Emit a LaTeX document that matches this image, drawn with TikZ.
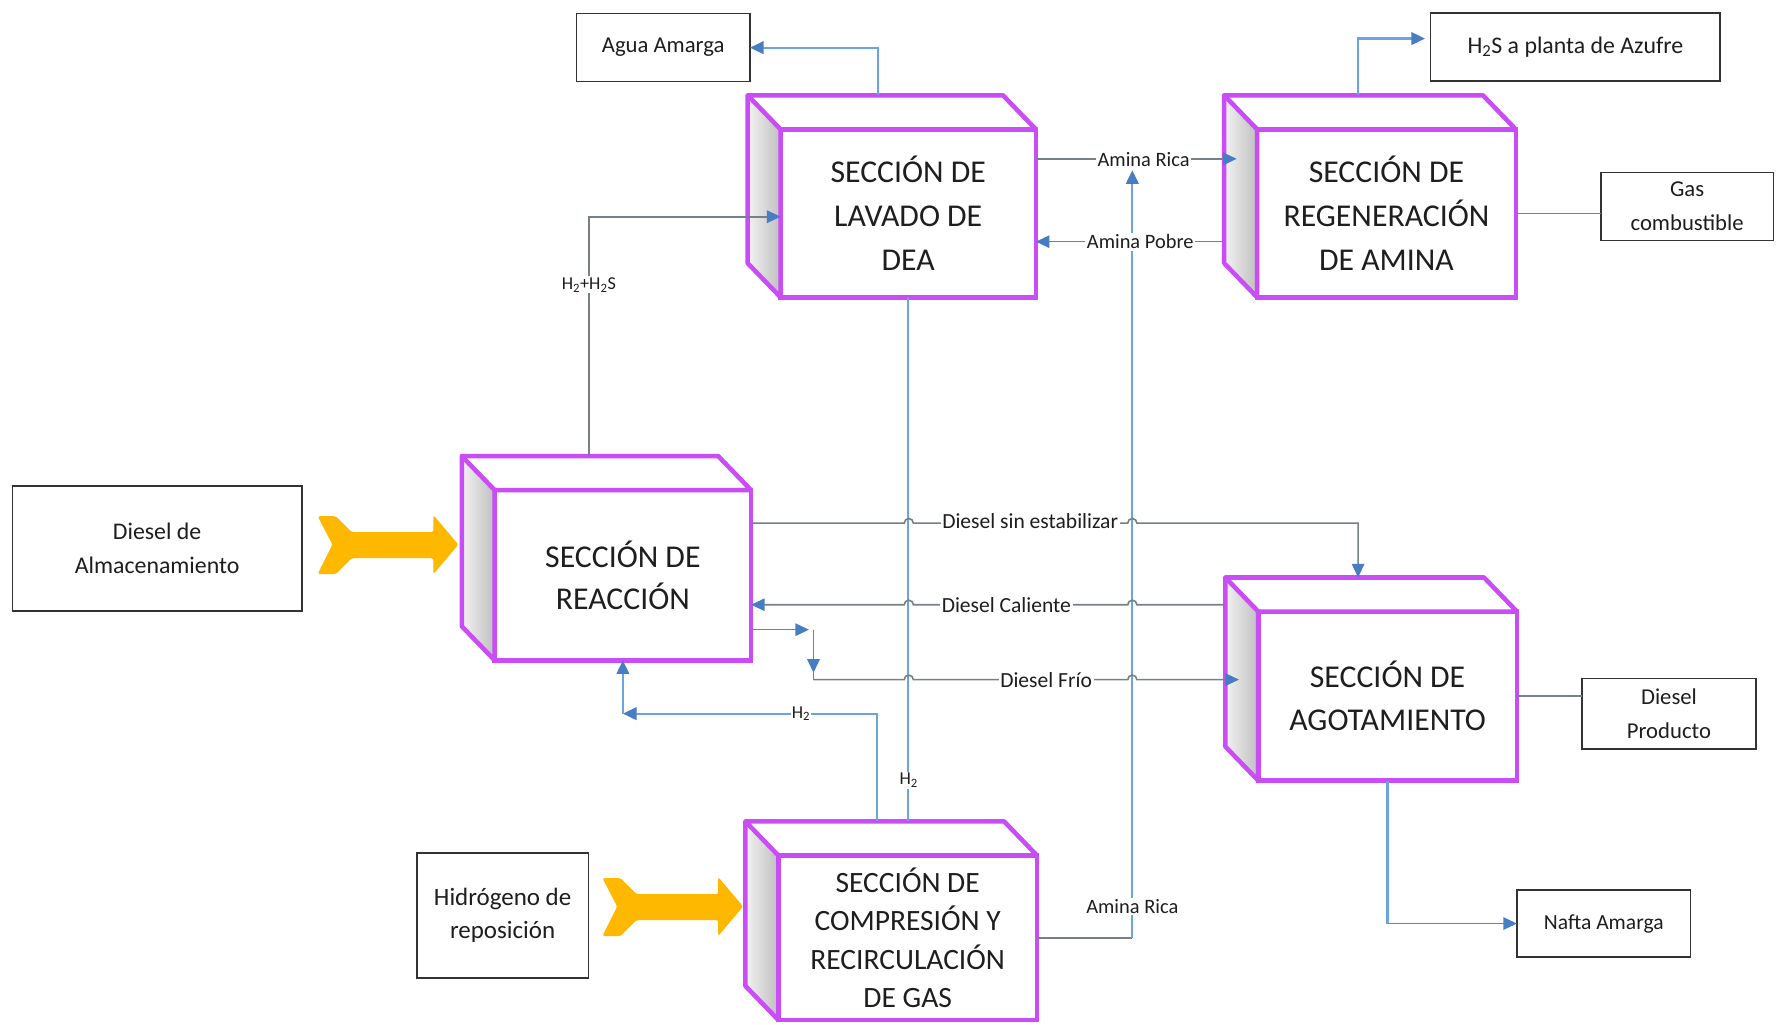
\documentclass[tikz,border=0pt]{standalone}
\usepackage{fontspec}
\setmainfont{Carlito}
\usetikzlibrary{arrows.meta}

\definecolor{cubeedge}{RGB}{201,76,246}
\definecolor{flowblue}{RGB}{108,164,222}
\definecolor{flowgray}{RGB}{118,128,133}
\definecolor{tipblue}{RGB}{70,125,195}
\definecolor{feedgold}{RGB}{255,184,0}
\definecolor{ink}{RGB}{30,30,30}

\tikzset{
  cubeface/.style={draw=cubeedge, line width=4pt, fill=white, rectangle,
    inner sep=0pt, outer sep=0pt, align=center,
    font=\fontsize{28}{39}\selectfont, text=ink},
  cubeline/.style={draw=cubeedge, line width=4pt, line join=round},
  streambox/.style={draw=black!80, line width=1.3pt, fill=white, rectangle,
    inner sep=0pt, outer sep=0pt, align=center,
    font=\fontsize{20}{30}\selectfont, text=ink},
  tag/.style={fill=white, inner sep=1.5pt, font=\fontsize{18}{20}\selectfont, text=ink},
  dtag/.style={fill=white, inner sep=1.5pt, font=\fontsize{19}{21}\selectfont, text=ink},
  smalltag/.style={fill=white, inner sep=1pt, font=\fontsize{16}{18}\selectfont, text=ink},
  bluepipe/.style={draw=flowblue, line width=2pt},
  graypipe/.style={draw=flowgray, line width=1.4pt},
  flowtip/.style={-{Triangle[length=12pt,width=11pt,fill=tipblue,color=tipblue]}},
  feedarrow/.style={fill=feedgold, rounded corners=2pt},
}

% 3-D process block: front face is a node, top and left faces are drawn behind it
\newcommand{\cubebox}[6][]{%
  \node[cubeface, minimum width=#5pt, minimum height=#6pt, #1] (#2) at (#3,#4) {};
  \fill[left color=gray!10, right color=gray!50]
    (#2.north west) -- ++(-29,-30) -- ([shift={(-29,-30)}]#2.south west) -- (#2.south west) -- cycle;
  \fill[white]
    (#2.north west) -- ++(-29,-30) -- ([shift={(-29,-30)}]#2.north east) -- (#2.north east) -- cycle;
  \draw[cubeline] (#2.south west) -- ([shift={(-29,-30)}]#2.south west)
    -- ([shift={(-29,-30)}]#2.north west) -- ([shift={(-29,-30)}]#2.north east)
    -- (#2.north east) -- (#2.north west) -- (#2.south west);
  \draw[cubeline] ([shift={(-29,-30)}]#2.north west) -- (#2.north west);
}

% wide feed arrow with a forked tail, tip at the given point
\newcommand{\feedshape}[1]{%
  \fill[feedarrow, shift={#1}]
    (-124,-25) -- (-108,-25) -- (-94,-11) -- (-22,-11) -- (-22,-26) -- (0,0)
    -- (-22,26) -- (-22,12) -- (-94,12) -- (-108,26) -- (-124,26) -- (-111,0) -- cycle;
}

\begin{document}
\begin{tikzpicture}[x=1pt, y=-1pt]
\useasboundingbox (0,0) rectangle (1568,903);
\fill[white] (0,0) rectangle (1568,903);

% ---- stream boxes
\node[streambox, minimum width=153pt, minimum height=60pt] (agua) at (584.5,42) {Agua Amarga};
\node[streambox, minimum width=255pt, minimum height=60pt, font=\fontsize{21}{30}\selectfont] (h2s) at (1388.5,41.5) {H\textsubscript{2}S a planta de Azufre};
\node[streambox, minimum width=152pt, minimum height=60pt] (gas) at (1487,182) {Gas\\combustible};
\node[streambox, minimum width=255pt, minimum height=110pt, font=\fontsize{21}{30}\selectfont] (dalm) at (138.5,483.5) {Diesel de\\Almacenamiento};
\node[streambox, minimum width=151pt, minimum height=110pt, font=\fontsize{22}{29}\selectfont] (hrep) at (443,807) {Hidrógeno de\\reposición};
\node[streambox, minimum width=153pt, minimum height=62pt] (dprod) at (1471,629) {Diesel\\Producto};
\node[streambox, minimum width=153pt, minimum height=59pt, font=\fontsize{19}{21}\selectfont] (nafta) at (1413.5,814) {Nafta Amarga};

% ---- process sections
\cubebox{dea}{800.5}{188}{225}{148}
\node[font=\fontsize{28}{39}\selectfont, text=ink, align=center] (dea-txt) at (dea.center) {SECCIÓN DE\\LAVADO DE\\DEA};
\cubebox{regen}{1222}{188}{228}{148}
\node[font=\fontsize{28}{39}\selectfont, text=ink, align=center] (regen-txt) at (regen.center) {SECCIÓN DE\\REGENERACIÓN\\DE AMINA};
\cubebox{reac}{549}{507}{226}{150}
\node[font=\fontsize{28}{37}\selectfont, text=ink, align=center] (reac-txt) at (reac.center) {SECCIÓN DE\\REACCIÓN};
\cubebox{agot}{1223}{613.5}{228}{149}
\node[font=\fontsize{28}{38}\selectfont, text=ink, align=center] (agot-txt) at (agot.center) {SECCIÓN DE\\AGOTAMIENTO};
\cubebox{comp}{800}{826.5}{228}{145}
\node[font=\fontsize{26}{34}\selectfont, text=ink, align=center] (comp-txt) at (comp.center) {SECCIÓN DE\\COMPRESIÓN Y\\RECIRCULACIÓN\\DE GAS};

% ---- feed arrows
\feedshape{(404,480)}
\feedshape{(655,799)}

% ---- connector ports
\coordinate (dea-top) at (774,84);
\coordinate (regen-top) at (1197,84);
\coordinate (reac-top) at (519,402);
\coordinate (agot-top) at (1197,509);
\coordinate (comp-topA) at (773,724);
\coordinate (comp-topB) at (801,724);
\coordinate (rica-up) at (998,150);
\coordinate (rica-turn) at (998,826.5);
\coordinate (h2turn) at (549,629);
\coordinate (dfA) at (717,555);
\coordinate (dfB) at (717,599);
\coordinate (nafta-turn) at (1223,814);

% ---- streams
\draw[bluepipe, flowtip] (dea-top) |- (agua.east);
\draw[bluepipe, flowtip] (regen-top) |- ([xshift=-5pt,yshift=7.5pt]h2s.west);

\draw[graypipe, flowtip] (reac-top) |- ([yshift=-3pt]dea.west);
\node[smalltag] (lbl-h2h2s) at (519,251) {H\textsubscript{2}+H\textsubscript{2}S};

\draw[bluepipe] (dea.south) -- (dea.south |- comp-topB);
\node[smalltag] (lbl-h2a) at (801,688) {H\textsubscript{2}};

\draw[bluepipe, flowtip] (comp-topA) |- (h2turn);
\draw[bluepipe, flowtip] (h2turn) -- (reac.south);
\node[smalltag] (lbl-h2b) at (706,629) {H\textsubscript{2}};

\draw[graypipe] (comp.east) -- (rica-turn);
\draw[bluepipe, flowtip] (rica-turn) -- (rica-up);
\node[tag] (lbl-rica2) at (998,799) {Amina Rica};

\draw[graypipe, flowtip] ([yshift=48pt]dea.east) -- ([xshift=-18pt,yshift=48pt]regen.west);
\node[tag] (lbl-rica1) at (1008,141) {Amina Rica};
\draw[graypipe, flowtip] ([xshift=-29pt,yshift=-25pt]regen.west) -- ([yshift=-25pt]dea.east);
\node[tag] (lbl-pobre) at (1005,213) {Amina Pobre};

\draw[graypipe] (regen.east) -- (regen.east -| gas.west);
\draw[graypipe] (agot.east) -- (agot.east -| dprod.west);
\draw[bluepipe] (agot.south) -- (nafta-turn);
\draw[graypipe, flowtip] (nafta-turn) -- (nafta.west);

% diesel streams hop over the vertical lines
\draw[graypipe, flowtip] ([yshift=46pt]reac.east) -- (797,461)
  arc[start angle=180, end angle=0, radius=4pt] -- (994,461)
  arc[start angle=180, end angle=0, radius=4pt] -| (agot-top);
\node[dtag] (lbl-dse) at (908,459) {Diesel sin estabilizar};

\draw[graypipe, flowtip] ([xshift=-30pt,yshift=80.5pt]agot.west) -- (1002,533)
  arc[start angle=0, end angle=180, radius=4pt] -- (805,533)
  arc[start angle=0, end angle=180, radius=4pt] -- ([yshift=-26pt]reac.east);
\node[dtag] (lbl-dca) at (887,533) {Diesel Caliente};

\draw[graypipe, flowtip, shorten >=4pt] ([yshift=-48pt]reac.east) -- (dfA);
\draw[graypipe] (dfA) -- (dfB);
\draw[graypipe, flowtip, shorten >=6pt] (dfA) -- (dfB);
\draw[graypipe, flowtip] (dfB) -- (797,599)
  arc[start angle=180, end angle=0, radius=4pt] -- (994,599)
  arc[start angle=180, end angle=0, radius=4pt] -- ([xshift=-17pt,yshift=14.5pt]agot.west);
\node[dtag] (lbl-dfr) at (922,599) {Diesel Frío};

\end{tikzpicture}
\end{document}
